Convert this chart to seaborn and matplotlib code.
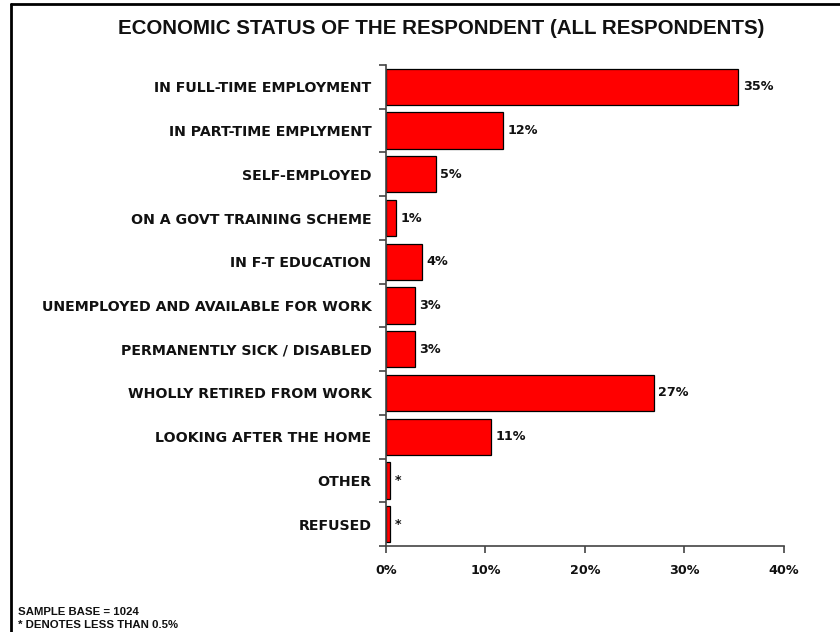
import matplotlib
matplotlib.use("Agg")
import matplotlib.pyplot as plt
from matplotlib.lines import Line2D
from matplotlib.ticker import FixedLocator, NullFormatter
import seaborn as sns
import pandas as pd

categories = [
    "IN FULL-TIME EMPLOYMENT",
    "IN PART-TIME EMPLYMENT",
    "SELF-EMPLOYED",
    "ON A GOVT TRAINING SCHEME",
    "IN F-T EDUCATION",
    "UNEMPLOYED AND AVAILABLE FOR WORK",
    "PERMANENTLY SICK / DISABLED",
    "WHOLLY RETIRED FROM WORK",
    "LOOKING AFTER THE HOME",
    "OTHER",
    "REFUSED",
]
percent = [35.4, 11.8, 5.0, 1.0, 3.6, 2.9, 2.9, 26.9, 10.6, 0.4, 0.4]
x_ticks = [0, 10, 20, 30, 40]

sns.set_theme(style="white")
plt.rcParams["font.family"] = ["Liberation Sans", "DejaVu Sans"]

VALUE_FONT = dict(family=["DejaVu Sans"], size=9.2, weight="bold")
CATEGORY_FONT = dict(family=["DejaVu Sans"], size=10.2, weight="bold")

df = pd.DataFrame({"status": categories, "pct": percent})

fig = plt.figure(figsize=(8.4, 6.32), dpi=100)
ax = fig.add_axes([0.4595, 0.1361, 0.4738, 0.7611])

sns.barplot(data=df, x="pct", y="status", orient="h", color="#FF0000",
            saturation=1, width=0.83, edgecolor="black", linewidth=0.9, ax=ax)

ax.set_xlim(0, 40)
ax.set_ylim(len(categories) - 0.5, -0.5)
ax.set_xlabel("")
ax.set_ylabel("")

for side in ("top", "right"):
    ax.spines[side].set_visible(False)
for side in ("left", "bottom"):
    ax.spines[side].set_color("#444444")
    ax.spines[side].set_linewidth(1.2)

ax.set_xticks(x_ticks)
ax.set_xticklabels([f"{t}%" for t in x_ticks], fontdict=VALUE_FONT, color="#111111")
ax.tick_params(axis="x", direction="out", length=5, width=1.2, color="#444444",
               pad=8, bottom=True)

ax.set_yticks(range(len(categories)))
ax.set_yticklabels(categories, fontdict=CATEGORY_FONT, color="#111111")
ax.tick_params(axis="y", which="major", length=0, pad=10.5)
ax.yaxis.set_minor_locator(FixedLocator([i - 0.5 for i in range(len(categories) + 1)]))
ax.yaxis.set_minor_formatter(NullFormatter())
ax.tick_params(axis="y", which="minor", direction="out", length=5, width=1.2,
               color="#444444", left=True)

for i, v in enumerate(percent):
    label = "*" if v < 0.5 else f"{round(v)}%"
    ax.text(v + 0.45, i, label, va="center", ha="left", fontdict=VALUE_FONT,
            color="#111111")

fig.text(0.525, 0.955, "ECONOMIC STATUS OF THE RESPONDENT (ALL RESPONDENTS)",
         ha="center", va="center", fontsize=14.8, fontweight="bold", color="#111111")

fig.text(0.0214, 0.031, "SAMPLE BASE = 1024", ha="left", va="center",
         fontsize=8.2, fontweight="bold", color="#111111")
fig.text(0.0214, 0.011, "* DENOTES LESS THAN 0.5%", ha="left", va="center",
         fontsize=8.2, fontweight="bold", color="#111111")

# frame around the chart area
fig.add_artist(Line2D([0.0131, 0.0131], [0.0, 0.9937], color="black", lw=2,
                      transform=fig.transFigure))
fig.add_artist(Line2D([0.0131, 1.0], [0.9937, 0.9937], color="black", lw=2,
                      transform=fig.transFigure))

fig.savefig("out.png", dpi=100, facecolor="white")
